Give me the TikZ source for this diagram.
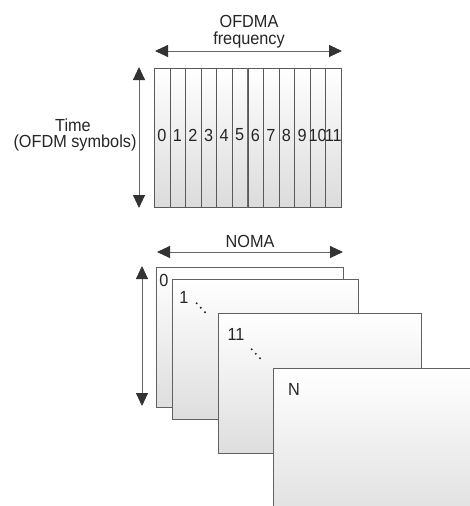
\documentclass[tikz,border=0pt]{standalone}
\usepackage{fontspec}
\setmainfont{Liberation Sans}
\newfontfamily\lblfont[FakeStretch=0.93]{Liberation Sans}
\usetikzlibrary{arrows.meta}
\begin{document}
\begin{tikzpicture}[x=1pt,y=-1pt,
  lbl/.style={font=\lblfont\fontsize{17.5}{19}\selectfont, text=black!85, inner sep=0pt},
  dimarrow/.style={draw=black!60, line width=0.9pt,
    {Triangle[length=13pt,width=12pt,color=black!80]}-{Triangle[length=13pt,width=12pt,color=black!80]}},
  band/.style={draw=black!65, line width=0.8pt, top color=white, bottom color=black!14,
    inner sep=0pt, anchor=north west, minimum width=15.58pt, minimum height=139pt},
  sheet/.style={draw=black!62, line width=1pt, top color=white, bottom color=black!13,
    inner sep=0pt, anchor=north west},
]
\clip (0,0) rectangle (470,506);
\fill[white] (0,0) rectangle (470,506);

% ---------- OFDMA: twelve sub-bands ----------
\foreach \k in {0,...,11}{
  \node[band] (b\k) at ({154+15.583*\k},68) {};
  \node[lbl] (d\k) at ({154+15.583*\k+7.8},135) {\k};
}

\coordinate (fL) at (155,51);
\coordinate (fR) at (342,51);
\draw[dimarrow] (fL) -- (fR);
\node[lbl] (ofdma) at (249,21) {OFDMA};
\node[lbl] (freq) at (249,40) {frequency};

\coordinate (tT) at (139,67);
\coordinate (tB) at (139,208);
\draw[dimarrow] (tT) -- (tB);
\node[lbl] (time) at (73,125) {Time};
\node[lbl] (sym) at (75,143) {(OFDM symbols)};

% ---------- NOMA: stacked layers ----------
\coordinate (nL) at (157,252);
\coordinate (nR) at (343,252);
\draw[dimarrow] (nL) -- (nR);
\node[lbl] (noma) at (250,241) {NOMA};

\coordinate (vT) at (142,266);
\coordinate (vB) at (142,406);
\draw[dimarrow] (vT) -- (vB);

\node[sheet, minimum width=187pt, minimum height=140pt] (s0) at (156,267) {};
\node[sheet, minimum width=186pt, minimum height=140pt] (s1) at (172,279) {};
\node[sheet, minimum width=203pt, minimum height=140pt] (s11) at (218,313) {};
\node[sheet, minimum width=220pt, minimum height=160pt] (sN) at (273,368) {};

\node[lbl] (l0) at (164,280) {0};
\node[lbl] (l1) at (184,297) {1};
\node[lbl] (l11) at (236,334) {11};
\node[lbl] (lN) at (294,389) {N};

% diagonal ellipses
\foreach \x/\y in {196.7/303.3, 200.8/307.7, 205/312.3, 251.7/349.3, 255.8/353.8, 260/358.3}
  \fill[black!85] (\x,\y) circle (1.1pt);
\end{tikzpicture}
\end{document}
